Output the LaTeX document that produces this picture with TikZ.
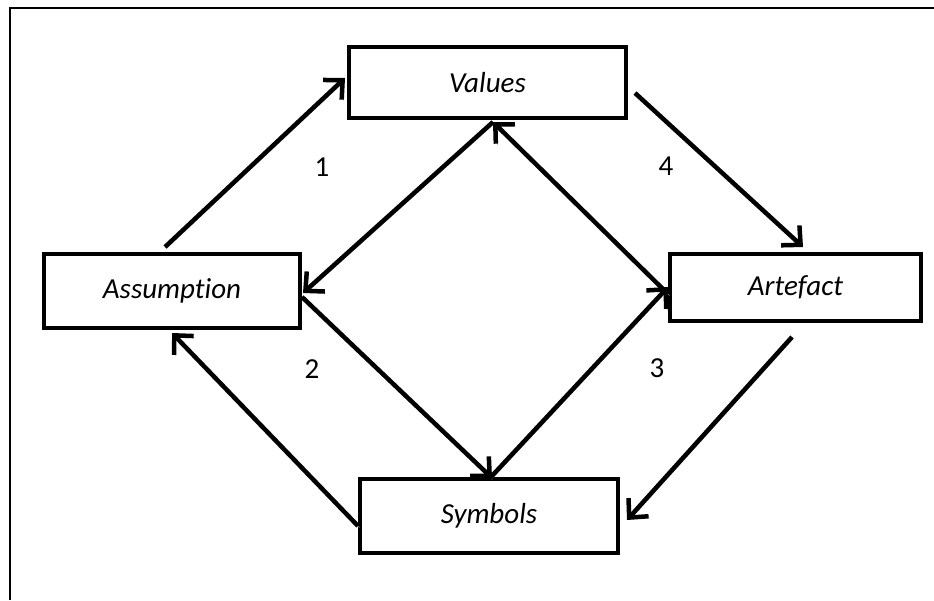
\documentclass[tikz,border=0pt]{standalone}
\usepackage{fontspec}
\setmainfont{Carlito}[Ligatures=NoCommon]
\usetikzlibrary{arrows.meta,calc}
\begin{document}
\begin{tikzpicture}[x=1pt,y=-1pt,
  box/.style={draw,line width=4.5pt,fill=white,inner sep=0pt,
    font=\fontsize{29}{34}\selectfont\itshape},
  link/.style={line width=4.5pt,-{Straight Barb[length=14pt,width=27pt]},
    preaction={draw=black!35,transform canvas={shift={(1.5pt,-1.5pt)}}}},
  num/.style={font=\fontsize{29}{34}\selectfont}]
\useasboundingbox (0,0) rectangle (934,600);
% frame
\draw[line width=2.2pt] (10,600) -- (10,8) -- (934,8);
% boxes
\node[box,minimum width=277pt,minimum height=71pt] (val) at (487.5,82.5) {Values};
\node[box,minimum width=256pt,minimum height=74pt] (asm) at (172,291) {Assumption};
\node[box,minimum width=251pt,minimum height=67pt] (art) at (795.5,287.5) {Artefact};
\node[box,minimum width=258pt,minimum height=74pt] (sym) at (489,516) {Symbols};
% outer cycle
\draw[link] ($(asm.center)+(-7,-44)$) -- ($(val.center)+(-142.5,-4.5)$);
\draw[link] ($(val.center)+(147.5,10.5)$) -- ($(art.center)+(7.5,-40.5)$);
\draw[link] ($(art.center)+(-3.5,49.5)$) -- ($(sym.center)+(138,4)$);
\draw[link] ($(sym.center)+(-131,10)$) -- ($(asm.center)+(0,42)$);
% inner diamond
\draw[link] ($(val.center)+(5.5,39.5)$) -- ($(asm.center)+(131,2)$);
\draw[link] ($(art.center)+(-127.5,6.5)$) -- ($(val.center)+(5.5,39.5)$);
\draw[link] ($(asm.center)+(130,6)$) -- ($(sym.center)+(3,-38)$);
\draw[link] ($(sym.center)+(1,-38)$) -- ($(art.center)+(-127.5,-0.5)$);
% labels
\node[num] (n1) at (322,167) {1};
\node[num] (n4) at (666,166) {4};
\node[num] (n2) at (312,369) {2};
\node[num] (n3) at (657,368) {3};
\end{tikzpicture}
\end{document}
